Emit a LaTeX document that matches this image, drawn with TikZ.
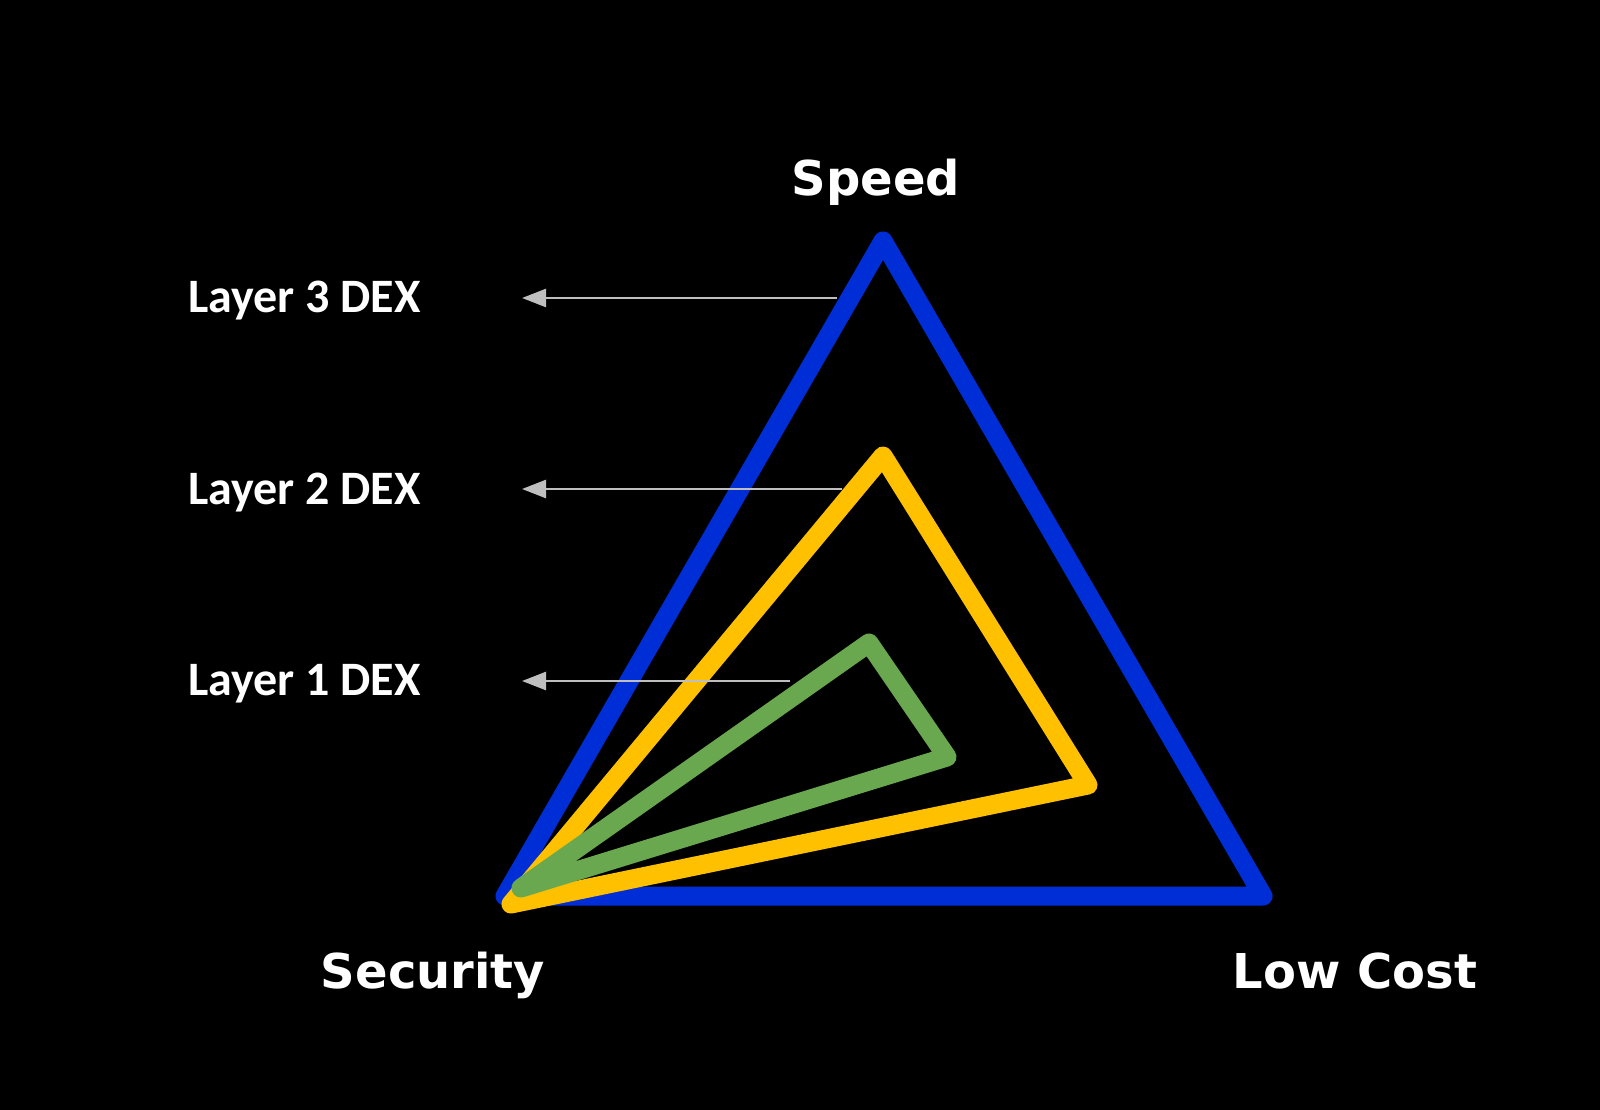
\documentclass[tikz,border=0pt]{standalone}
\usepackage{fontspec}
\setmainfont{Carlito}
\newfontfamily\cornerfont{DejaVu Sans}
\usetikzlibrary{arrows.meta}
\definecolor{triblue}{HTML}{002ED6}
\definecolor{triyellow}{HTML}{FFC000}
\definecolor{trigreen}{HTML}{6AA84F}
\definecolor{arrgray}{HTML}{BFBFBF}
\tikzset{
  tri/.style={line width=19pt, line join=round, line cap=round},
  layerlabel/.style={text=white, font=\fontsize{48}{56}\selectfont\bfseries, anchor=base west, inner sep=0pt},
  cornerlabel/.style={text=white, font=\cornerfont\fontsize{48}{56}\selectfont\bfseries, anchor=base, inner sep=0pt},
  pointer/.style={draw=arrgray, line width=2.5pt, -{Triangle[length=24pt,width=18pt]}}
}
\begin{document}
\begin{tikzpicture}[x=1pt,y=-1pt]
\fill[black] (0,0) rectangle (1600,1110);
\useasboundingbox (0,0) rectangle (1600,1110);
% vertices
\coordinate (bT) at (883,241);
\coordinate (bL) at (505,896);
\coordinate (bR) at (1263,896);
\coordinate (yT) at (883,456);
\coordinate (yR) at (1088,785);
\coordinate (yL) at (511,904);
\coordinate (gT) at (869,643);
\coordinate (gR) at (947,757);
\coordinate (gL) at (521,888);
\draw[tri, triblue] (bT) -- (bR) -- (bL) -- cycle;
\draw[tri, triyellow] (yT) -- (yR) -- (yL) -- cycle;
\draw[tri, trigreen] (gT) -- (gR) -- (gL) -- cycle;
% labels
\node[layerlabel] (l3) at (188,312) {Layer 3 DEX};
\node[layerlabel] (l2) at (188,504) {Layer 2 DEX};
\node[layerlabel] (l1) at (188,695) {Layer 1 DEX};
\node[cornerlabel] (speed) at (876,196) {Speed};
\node[cornerlabel] (security) at (433,988) {Security};
\node[cornerlabel] (lowcost) at (1355,988) {Low Cost};
% pointers
\coordinate (s3) at (837,298);
\coordinate (e3) at (522,298);
\coordinate (s2) at (842,489);
\coordinate (e2) at (522,489);
\coordinate (s1) at (790,681);
\coordinate (e1) at (522,681);
\draw[pointer] (s3) -- (e3);
\draw[pointer] (s2) -- (e2);
\draw[pointer] (s1) -- (e1);
\end{tikzpicture}
\end{document}
